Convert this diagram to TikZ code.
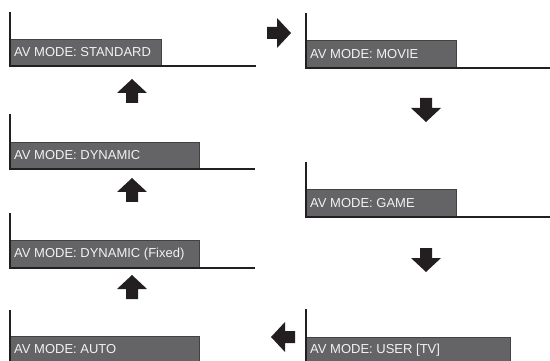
\documentclass[tikz,border=0pt]{standalone}
\usepackage{fontspec}
\setmainfont{Liberation Sans}
\definecolor{boxgray}{HTML}{646466}
\definecolor{ink}{HTML}{231F20}
\definecolor{txt}{HTML}{F2F2F2}
\tikzset{
 modebox/.style={draw=ink!85, line width=0.8pt, fill=boxgray, anchor=north west, inner sep=0pt},
 modetext/.style={anchor=west, text=txt, font=\fontsize{13}{15}\selectfont, inner sep=0pt},
 frameline/.style={draw=ink, line width=2pt},
 flowarrow/.style={fill=ink, draw=none},
}
\newcommand\avpanel[8]{%
 \node[modebox, minimum width={(#6-#2)*1pt}, minimum height={(#5-#4)*1pt}] (#1box) at (#2,#4) {};
 \node[modetext] (#1) at ({#2+4},{(#4+#5)/2}) {AV MODE: #8};
 \draw[frameline] (#2,#3) -- (#2,#5) -- (#7,#5);
}
\newcommand\bigarrow[4]{%
 \coordinate (#1) at (#2,#3);
 \begin{scope}[shift={(#1)}, rotate=#4]
  \fill[flowarrow] (0,0) -- (-14,15) -- (-14,6) -- (-24,6) -- (-24,-6) -- (-14,-6) -- (-14,-15) -- cycle;
 \end{scope}
}
\begin{document}
\begin{tikzpicture}[x=1pt,y=-1pt]
\useasboundingbox (0,0) rectangle (550,361);
\clip (0,0) rectangle (550,361);
\avpanel{std}{10}{12}{39}{66}{161}{256}{STANDARD}
\avpanel{dyn}{10}{114}{142}{169}{199}{255}{DYNAMIC}
\avpanel{fix}{10}{213}{240}{268}{199}{255}{DYNAMIC (Fixed)}
\avpanel{auto}{10}{310}{336}{363}{199}{255}{AUTO}
\avpanel{movie}{306}{13}{40}{68}{456}{550}{MOVIE}
\avpanel{game}{306}{162}{189}{217}{456}{550}{GAME}
\avpanel{user}{306}{309}{337}{364}{510}{550}{USER [TV]}
\bigarrow{a1}{132}{79}{90}
\bigarrow{a2}{132}{178}{90}
\bigarrow{a3}{132}{275}{90}
\bigarrow{a4}{291}{33}{0}
\bigarrow{a5}{426}{122}{270}
\bigarrow{a6}{426}{272}{270}
\bigarrow{a7}{271}{337}{180}
\end{tikzpicture}
\end{document}
